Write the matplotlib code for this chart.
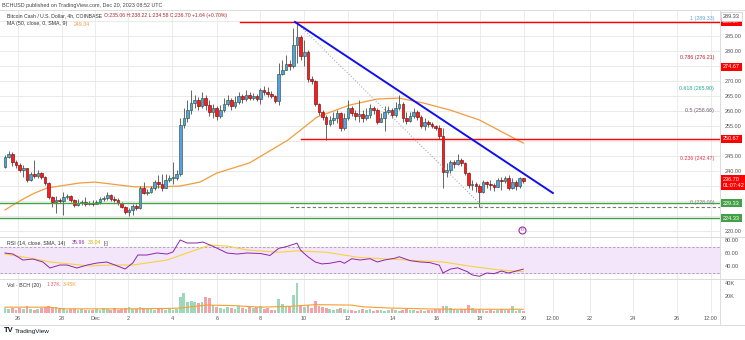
import numpy as np
import matplotlib
matplotlib.use("Agg")
import matplotlib.pyplot as plt
import matplotlib.transforms as mtransforms

plt.rcParams['font.family'] = ['Liberation Sans', 'DejaVu Sans']

# ---------------- data ----------------
open_first = 241.3
close = [
    244.7, 245.7, 243.0, 242.0, 240.3, 241.0, 237.0, 239.0, 238.3, 239.3,
    238.0, 236.0, 231.3, 229.7, 230.3, 230.0, 231.3, 231.7, 230.3, 228.7,
    229.3, 229.7, 229.0, 229.3, 229.0, 229.7, 230.7, 231.0, 232.0, 230.7,
    230.3, 229.3, 228.0, 226.3, 227.0, 228.3, 227.7, 234.3, 232.7, 233.0,
    234.3, 236.3, 235.7, 234.3, 237.0, 237.7, 237.7, 239.0, 255.3, 257.7,
    260.3, 262.7, 263.7, 261.7, 264.3, 262.0, 259.7, 261.0, 258.3, 260.3,
    262.3, 263.7, 261.7, 263.0, 265.0, 264.0, 265.3, 264.3, 265.0, 264.0,
    267.0, 266.3, 265.7, 265.0, 263.3, 272.3, 273.7, 275.7, 275.0, 282.0,
    284.7, 278.3, 279.7, 270.7, 270.0, 262.3, 259.7, 258.0, 255.7, 257.0,
    257.7, 259.3, 254.3, 257.7, 261.0, 259.3, 258.3, 259.0, 257.7, 258.7,
    261.0, 260.3, 256.3, 257.7, 259.7, 260.3, 258.7, 261.0, 262.3, 257.7,
    256.7, 258.3, 259.7, 258.0, 255.0, 256.3, 255.7, 255.0, 254.3, 251.7,
    239.7, 240.3, 243.0, 242.3, 243.7, 242.7, 239.3, 235.3, 235.7, 235.0,
    233.0, 236.3, 235.7, 235.3, 234.7, 237.0, 236.7, 237.7, 234.3, 236.3,
    235.0, 237.7, 236.7,
]
high = [
    245.3, 246.7, 246.3, 243.7, 242.7, 242.0, 241.0, 239.7, 243.7, 240.3,
    239.7, 238.3, 236.3, 231.7, 231.7, 231.0, 233.0, 232.3, 232.0, 230.7,
    230.7, 230.3, 231.3, 230.0, 230.3, 230.3, 231.3, 231.7, 233.0, 232.3,
    231.7, 231.0, 229.7, 228.3, 227.7, 229.0, 229.0, 235.0, 236.3, 234.0,
    235.0, 237.0, 238.7, 239.0, 239.0, 238.7, 243.0, 240.3, 257.7, 261.0,
    263.7, 267.0, 265.3, 264.7, 266.3, 265.3, 263.7, 262.3, 261.7, 262.0,
    264.3, 265.3, 264.3, 265.0, 266.3, 265.7, 267.0, 266.3, 266.0, 265.7,
    267.7, 268.3, 268.0, 266.7, 265.3, 276.0, 277.0, 278.7, 277.0, 287.7,
    289.3, 285.3, 283.7, 280.3, 271.7, 270.3, 262.7, 260.3, 258.7, 258.3,
    259.7, 260.3, 259.7, 259.3, 263.7, 261.7, 260.3, 263.7, 260.3, 261.0,
    262.3, 261.7, 261.0, 259.3, 261.7, 261.7, 261.0, 263.0, 265.3, 263.0,
    259.7, 259.7, 261.0, 260.3, 258.7, 257.7, 257.0, 256.3, 255.3, 255.3,
    254.3, 242.7, 243.7, 243.7, 245.7, 244.3, 243.0, 239.7, 237.0, 236.3,
    235.7, 237.0, 236.7, 237.0, 236.0, 237.7, 238.0, 238.3, 238.7, 237.7,
    237.0, 238.0, 237.7,
]
low = [
    241.0, 244.3, 241.7, 241.0, 239.7, 238.0, 236.3, 236.7, 237.7, 237.7,
    237.3, 235.3, 230.7, 228.0, 226.0, 229.3, 225.3, 230.7, 229.7, 228.0,
    228.3, 228.7, 228.3, 228.7, 228.3, 229.0, 229.0, 230.0, 230.3, 230.0,
    229.7, 228.7, 227.7, 225.7, 225.0, 225.3, 227.0, 227.3, 232.3, 232.0,
    232.7, 233.7, 234.3, 233.3, 234.7, 236.3, 235.7, 237.0, 238.3, 254.3,
    256.3, 259.0, 261.0, 260.3, 261.0, 260.3, 258.3, 257.7, 257.0, 257.7,
    259.7, 261.7, 260.3, 261.0, 262.3, 262.7, 263.3, 263.7, 263.7, 263.3,
    262.3, 265.3, 264.7, 264.3, 262.7, 262.0, 272.0, 273.7, 273.7, 274.3,
    276.0, 277.0, 275.0, 269.7, 269.0, 261.7, 258.7, 257.0, 250.3, 255.0,
    255.7, 256.0, 253.3, 253.7, 257.0, 258.3, 257.0, 256.3, 256.3, 257.0,
    257.7, 259.0, 255.7, 256.3, 253.3, 259.0, 257.7, 258.0, 260.3, 256.3,
    255.7, 256.3, 257.7, 257.0, 254.3, 253.7, 254.7, 254.3, 253.7, 250.7,
    234.3, 238.0, 239.3, 241.0, 242.0, 241.7, 238.7, 234.3, 233.7, 233.0,
    228.0, 232.7, 234.3, 233.7, 233.3, 235.0, 233.7, 236.0, 233.7, 234.0,
    233.7, 234.3, 236.0,
]
volume = [
    6, 5, 6, 4, 6, 5, 8, 5, 4, 5,
    6, 7, 8, 6, 7, 5, 6, 4, 5, 5,
    4, 5, 4, 4, 4, 5, 4, 6, 5, 4,
    6, 4, 5, 6, 7, 5, 5, 7, 6, 5,
    5, 4, 5, 6, 4, 5, 4, 5, 19, 24,
    13, 14, 13, 12, 13, 19, 18, 10, 7, 6,
    5, 7, 6, 5, 8, 6, 5, 7, 6, 7,
    8, 5, 6, 4, 4, 17, 11, 8, 8, 22,
    36, 8, 7, 10, 6, 14, 8, 7, 6, 5,
    4, 5, 6, 5, 4, 4, 3, 4, 5, 4,
    5, 3, 4, 4, 3, 4, 5, 4, 3, 4,
    5, 4, 4, 3, 4, 3, 4, 4, 5, 5,
    9, 8, 6, 5, 4, 5, 5, 10, 6, 4,
    5, 4, 3, 4, 3, 4, 5, 4, 4, 8,
    3, 4, 3,
]

# 50-period moving average (bar index, value)
ma_idx = [0, 2.2, 5.5, 8.2, 11.5, 15, 20.5, 24.7, 28.8, 35.6, 42.5, 48, 53.4,
          58, 67, 77.5, 85.5, 94.5, 102, 108, 114.5, 122, 130, 142]
ma_val = [227.0, 228.7, 231.0, 232.7, 234.3, 235.0, 236.0, 236.3, 235.7, 234.7,
          234.7, 235.0, 236.3, 239.3, 242.7, 250.3, 258.0, 262.0, 264.0, 264.3,
          262.7, 260.3, 257.0, 249.3]

# RSI(14) and its SMA
rsi_idx = [0, 2.2, 4.9, 7.7, 10.4, 12.3, 15, 17, 19.7, 22.5, 25.2, 27.9, 30.1,
           32.9, 35, 36.4, 38.9, 41.6, 44.4, 46, 48, 49.9, 52.6, 54.2, 58, 60.8,
           63.6, 66.3, 70, 72.6, 75, 76.7, 79, 80, 81, 83, 85, 86.8, 89, 91.8,
           93, 95, 97.3, 100, 102, 104, 107, 108, 111, 113.7, 116.4, 119, 120,
           122, 124, 126.7, 128, 130, 132, 134, 136, 138, 140, 142]
rsi_val = [60.8, 59.2, 50.0, 51.5, 46.9, 37.7, 42.3, 42.3, 37.7, 42.3, 45.4,
           46.9, 42.3, 36.2, 45.4, 57.7, 57.7, 60.8, 59.2, 62.3, 80.8, 76.2,
           76.2, 77.7, 68.5, 60.8, 59.2, 60.8, 60.0, 57.0, 68.0, 70.0, 74.0,
           76.0, 65.0, 55.0, 47.0, 44.0, 45.0, 48.0, 45.0, 52.0, 50.0, 52.0,
           47.0, 50.0, 53.0, 55.0, 49.0, 47.0, 46.0, 42.0, 30.0, 36.0, 38.0,
           32.0, 27.0, 25.0, 30.0, 29.0, 33.0, 30.0, 33.0, 36.0]
rsi_ma_idx = [0, 6.8, 12.3, 23.3, 28.8, 35, 44.4, 49.9, 56.2, 60.8, 66.3, 75,
              80, 88, 97, 110, 120, 128, 135, 142]
rsi_ma_val = [59.2, 53.0, 47.0, 40.8, 42.3, 42.3, 50.0, 60.8, 73.0, 71.5, 65.4,
              62.0, 64.0, 62.0, 54.0, 50.0, 47.0, 40.0, 35.0, 32.0]

# 20-period volume average
vol_ma_idx = [0, 12, 16, 35, 45, 48, 55, 62, 70, 78, 85, 95, 98, 105, 115, 122, 130, 142]
vol_ma_val = [7, 7, 5, 5, 5.5, 6, 9.5, 9, 7, 8, 10, 9.5, 7.5, 6, 5, 4.5, 4.5, 4.5]

# time axis
time_tick_idx = [3.6, 15.6, 24.7, 33.7, 45.75, 58.1, 69.9, 81.9, 94, 106.3,
                 118.4, 130.1, 142.2, 150.1, 160.3, 172, 184.1, 193.4]
time_tick_labels = ['26', '28', 'Dec', '2', '4', '6', '8', '10', '12', '14',
                    '16', '18', '20', '12:00', '22', '24', '26', '12:00']
price_ticks = [220, 225, 230, 235, 240, 245, 250, 255, 260, 265, 270, 275, 280, 285, 290]

# drawn levels
top_resistance = 289.67
support_red = 250.67
support_green_1 = 229.33
support_green_2 = 224.33
fib_high = 289.33
fib_high_idx = 80
fib_low = 228.0
fib_low_idx = 131
fib_shown = [1.0, 0.786, 0.618, 0.5, 0.236, 0.0]
fib_colors = ['#5aa9d6', '#b2182b', '#1fa88a', '#6d5a6e', '#e0364a', '#7d7d7d']
trend_idx = [79.45, 150.1]
trend_val = [289.67, 232.67]

# ---------------- layout ----------------
W, H = 745, 340
fig = plt.figure(figsize=(W / 100, H / 100), dpi=100)
fig.patch.set_facecolor('white')


def box(x0, y0, x1, y1):
    return [x0 / W, 1 - y1 / H, (x1 - x0) / W, (y1 - y0) / H]


RIGHT = 720
ax = fig.add_axes(box(0, 10, RIGHT, 237))
ax_rsi = fig.add_axes(box(0, 237, RIGHT, 279))
ax_vol = fig.add_axes(box(0, 279, RIGHT, 313))

XLIM = (-1.37, 195.9)
for a in (ax, ax_rsi, ax_vol):
    a.set_xlim(*XLIM)
    for s in a.spines.values():
        s.set_visible(False)
    a.tick_params(length=0)
    a.set_xticks([])
    a.set_yticks([])
    for t in time_tick_idx:
        a.axvline(t, color='#ececec', lw=0.7, zorder=0)

ax.set_ylim(218.0, 293.67)
ax_rsi.set_ylim(20.8, 85.4)
ax_vol.set_ylim(0, 40.8)

GRID = '#e9e9e9'
for p in price_ticks:
    ax.axhline(p, color=GRID, lw=0.7, zorder=0)

# pane separators and right scale border
sep = '#dcdcdc'
fig.add_artist(plt.Line2D([0, 1], [1 - 10 / H] * 2, color=sep, lw=0.7))
fig.add_artist(plt.Line2D([0, 1], [1 - 237 / H] * 2, color=sep, lw=0.7))
fig.add_artist(plt.Line2D([0, 1], [1 - 279 / H] * 2, color=sep, lw=0.7))
fig.add_artist(plt.Line2D([0, 1], [1 - 325 / H] * 2, color=sep, lw=0.7))
fig.add_artist(plt.Line2D([RIGHT / W] * 2, [1 - 325 / H, 1 - 10 / H], color=sep, lw=0.7))

# ---------------- candles ----------------
n = len(close)
idx = np.arange(n)
c = np.array(close)
o = np.concatenate([[open_first], c[:-1]])
hi = np.maximum(np.array(high), np.maximum(o, c))
lo = np.minimum(np.array(low), np.minimum(o, c))
up = c >= o

ax.vlines(idx, lo, hi, color='#4d4d4d', lw=0.6, zorder=3)
body_h = np.maximum(np.abs(c - o), 0.35)
ax.bar(idx[up], body_h[up], bottom=np.minimum(o, c)[up], width=0.72,
       color='#5d9cec', edgecolor='#1f5f34', linewidth=0.45, zorder=4)
ax.bar(idx[~up], body_h[~up], bottom=np.minimum(o, c)[~up], width=0.72,
       color='#ff1a1a', edgecolor='#7a0c0c', linewidth=0.45, zorder=4)

# moving average
ax.plot(ma_idx, ma_val, color='#f39c3c', lw=0.9, zorder=2)

# levels
ax.plot([64.5, XLIM[1]], [top_resistance] * 2, color='#ff0000', lw=1.0, zorder=5)
ax.plot([81, XLIM[1]], [support_red] * 2, color='#ff0000', lw=1.0, zorder=5)
ax.axhline(support_green_1, color='#43a047', lw=1.0, zorder=5)
ax.axhline(support_green_2, color='#43a047', lw=1.0, zorder=5)
ax.plot([78, XLIM[1]], [fib_low] * 2, color='#777777', lw=0.8, ls=(0, (3, 2)), zorder=5)
ax.plot([fib_high_idx, fib_low_idx], [fib_high, fib_low], color='#9a9a9a', lw=0.7,
        ls=(0, (1, 2)), zorder=5)
ax.plot(trend_idx, trend_val, color='#1010ee', lw=1.4, zorder=6)

for lv, col in zip(fib_shown, fib_colors):
    price = fib_low + lv * (fib_high - fib_low)
    txt = f"{lv:g} ({price:.2f})"
    ax.text(194.3, price + 0.8, txt, color=col, fontsize=3.8, ha='right', va='bottom', zorder=7)

# event marker
ax.plot([141.6], [220.3], marker='o', ms=5, mfc='white', mec='#9c27b0', mew=0.8, zorder=7)
ax.text(141.6, 220.3, 'D', color='#9c27b0', fontsize=3, ha='center', va='center', zorder=8)

# right price scale
trans = mtransforms.blended_transform_factory(ax.transAxes, ax.transData)
covered = {250, 275, 235, 230, 225, 290}
for p in price_ticks:
    if p in covered:
        continue
    ax.text(1.006, p, f"{p:.2f}", transform=trans, fontsize=4.0, color='#555555',
            va='center', ha='left', clip_on=False)


def tag(a, y, text, fc, tc='white', ec='none'):
    tr = mtransforms.blended_transform_factory(a.transAxes, a.transData)
    a.text(1.004, y, text, transform=tr, fontsize=4.0, color=tc, va='center', ha='left',
           clip_on=False, zorder=10,
           bbox=dict(boxstyle='square,pad=0.35', fc=fc, ec=ec, lw=0.5))


tag(ax, top_resistance, f"{top_resistance:.2f}", '#ff0000')
tag(ax, 291.6, f"{fib_high:.2f}", 'white', tc='#444444', ec='#cccccc')
tag(ax, 274.67, "274.67", '#ff0000')
tag(ax, support_red, f"{support_red:.2f}", '#ff0000')
tag(ax, c[-1] - 0.6, f"{c[-1]:.2f}\n01:07:42", '#ff0000')
tag(ax, support_green_1, f"{support_green_1:.2f}", '#43a047')
tag(ax, support_green_2, f"{support_green_2:.2f}", '#43a047')

# ---------------- RSI pane ----------------
ax_rsi.axhspan(30, 70, color='#f3e6fa', zorder=0)
ax_rsi.axhline(70, color='#a99ab5', lw=0.6, ls=(0, (3, 2)))
ax_rsi.axhline(30, color='#a99ab5', lw=0.6, ls=(0, (3, 2)))
ax_rsi.plot(rsi_ma_idx, rsi_ma_val, color='#f5d43b', lw=0.8, zorder=3)
ax_rsi.plot(rsi_idx, rsi_val, color='#8e24aa', lw=0.7, zorder=4)
tr_r = mtransforms.blended_transform_factory(ax_rsi.transAxes, ax_rsi.transData)
for v in (80, 60, 40):
    ax_rsi.text(1.006, v, f"{v:.2f}", transform=tr_r, fontsize=4.0, color='#555555',
                va='center', ha='left', clip_on=False)

# ---------------- volume pane ----------------
vol_colors = np.where(up, '#9fd8b9', '#f5a3a8')
ax_vol.bar(idx, volume, width=0.75, color=vol_colors, zorder=2)
ax_vol.plot(vol_ma_idx, vol_ma_val, color='#f4a030', lw=0.8, zorder=3)
tr_v = mtransforms.blended_transform_factory(ax_vol.transAxes, ax_vol.transData)
ax_vol.text(1.006, 35, "40K", transform=tr_v, fontsize=4.0, color='#555555', va='center',
            ha='left', clip_on=False)
ax_vol.text(1.006, 20, "20K", transform=tr_v, fontsize=4.0, color='#555555', va='center',
            ha='left', clip_on=False)

# time axis labels
tr_t = mtransforms.blended_transform_factory(ax_vol.transData, fig.transFigure)
for t, lab in zip(time_tick_idx, time_tick_labels):
    ax_vol.text(t, 1 - 319 / H, lab, transform=tr_t, fontsize=4.0, color='#555555',
                ha='center', va='center', clip_on=False)

# ---------------- header / legends ----------------
def ftext(x, y, s, **kw):
    kw.setdefault('fontsize', 4.0)
    kw.setdefault('color', '#333333')
    return fig.text(x / W, 1 - y / H, s, va='center', ha='left', **kw)


ftext(2, 5, "BCHUSD published on TradingView.com, Dec 20, 2023 08:52 UTC", fontsize=3.9,
      color='#444444')
ftext(7, 16, "Bitcoin Cash / U.S. Dollar, 4h, COINBASE", fontsize=3.7)
ftext(104, 16, "O:235.06 H:238.22 L:234.58 C:236.70 +1.64 (+0.70%)", fontsize=3.7,
      color='#a52a2a')
ftext(7, 24, "MA (50, close, 0, SMA, 9)", fontsize=3.8)
ftext(74, 24, "249.34", fontsize=3.8, color='#f39c3c')

ftext(7, 243, "RSI (14, close, SMA, 14)", fontsize=3.8)
ftext(72, 243, "35.96", fontsize=3.8, color='#8e24aa')
ftext(88, 243, "33.04", fontsize=3.8, color='#d4b000')
ftext(104, 243, "[-]", fontsize=3.8)

ftext(7, 285, "Vol · BCH (20)", fontsize=3.8)
ftext(47, 285, "1.37K", fontsize=3.8, color='#e35d6a')
ftext(63, 285, "3.45K", fontsize=3.8, color='#f4a030')

ftext(4, 331, "TV", fontsize=5.5, color='#131722', fontweight='bold')
ftext(15, 331, "TradingView", fontsize=4.6, color='#131722')

fig.savefig('out.png', dpi=100, facecolor='white')
